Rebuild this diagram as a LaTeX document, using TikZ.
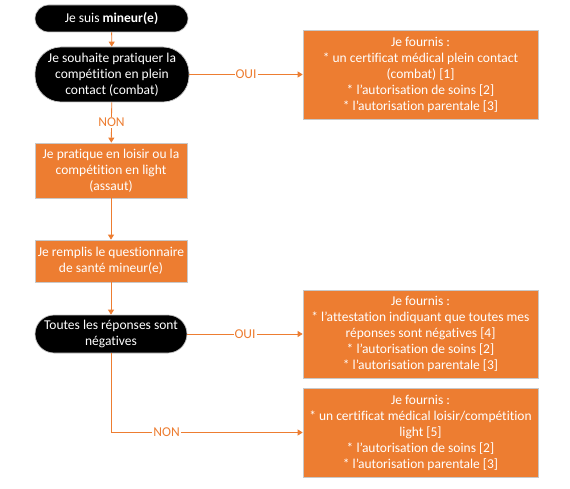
\documentclass[tikz,border=0pt]{standalone}
\usepackage{fontspec}
\setmainfont{Carlito}[Ligatures=NoCommon]
\usetikzlibrary{arrows.meta}
\definecolor{orng}{HTML}{ED7D31}
\definecolor{edgegray}{HTML}{C8C8C8}
\tikzset{
  base/.style={font=\fontsize{13.5}{16}\selectfont, text=white, align=center, inner sep=0pt, line width=0.7pt, draw=edgegray},
  term/.style={base, fill=black},
  obox/.style={base, fill=orng},
  conn/.style={draw=orng, line width=0.8pt, -{Triangle[length=5pt,width=6pt]}},
  lab/.style={fill=white, text=orng, font=\fontsize{13.5}{16}\selectfont, inner sep=1pt}
}
\begin{document}
\begin{tikzpicture}[x=1pt,y=-1pt]
\useasboundingbox[fill=white] (0,0) rectangle (570,489);
\node[term, minimum width=153pt, minimum height=27pt, rounded corners=13.5pt] (n1) at (111.5,18.5) {Je suis \textbf{mineur(e)}};
\node[term, minimum width=154pt, minimum height=55pt, rounded corners=26pt] (n2) at (112,74.5) {Je souhaite pratiquer la\\compétition en plein\\contact (combat)};
\node[obox, minimum width=152pt, minimum height=55pt] (n3) at (111,170.5) {Je pratique en loisir ou la\\compétition en light\\(assaut)};
\node[obox, minimum width=152pt, minimum height=42pt] (n4) at (111,261) {Je remplis le questionnaire\\de santé mineur(e)};
\node[term, minimum width=152pt, minimum height=38pt, rounded corners=19pt] (n5) at (111,334) {Toutes les réponses sont\\négatives};
\node[obox, minimum width=235pt, minimum height=89pt] (a) at (420.5,74.5) {Je fournis :\\* un certificat médical plein contact\\(combat) [1]\\* l’autorisation de soins [2]\\* l’autorisation parentale [3]};
\node[obox, minimum width=235pt, minimum height=88pt] (b) at (420.5,334) {Je fournis :\\* l’attestation indiquant que toutes mes\\réponses sont négatives [4]\\* l’autorisation de soins [2]\\* l’autorisation parentale [3]};
\node[obox, minimum width=235pt, minimum height=89pt] (c) at (420.5,432.5) {Je fournis :\\* un certificat médical loisir/compétition\\light [5]\\* l’autorisation de soins [2]\\* l’autorisation parentale [3]};
\draw[conn] (n1) -- (n2);
\draw[conn] (n2) -- node[lab, pos=0.5] {OUI} (a);
\draw[conn] (n2) -- node[lab, pos=0.5] {NON} (n3);
\draw[conn] (n3) -- (n4);
\draw[conn] (n4) -- (n5);
\draw[conn] (n5) -- node[lab, pos=0.5] {OUI} (b);
\draw[conn] (n5.south) |- node[lab, pos=0.645] {NON} (c.west);
\end{tikzpicture}
\end{document}
